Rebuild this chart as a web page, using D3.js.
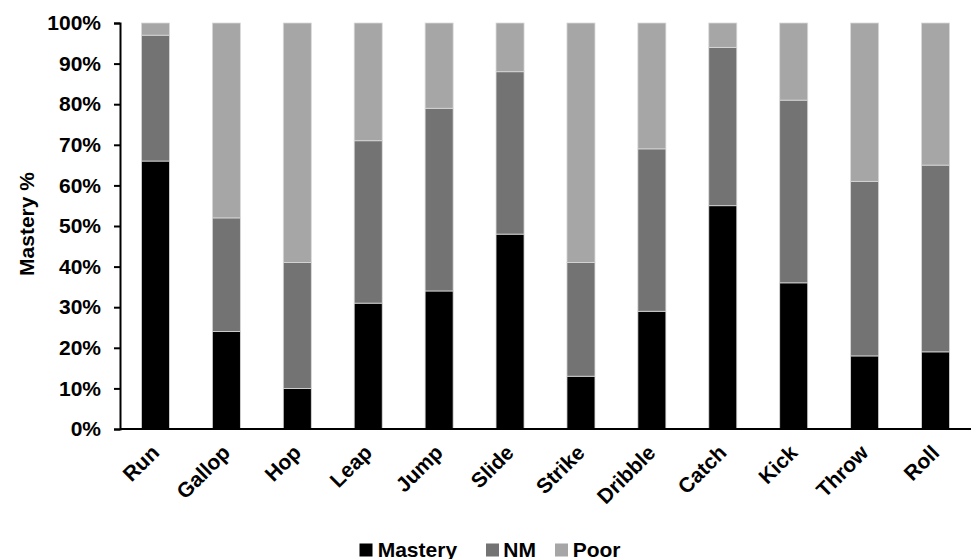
<!DOCTYPE html>
<html>
<head>
<meta charset="utf-8">
<script src="https://cdn.jsdelivr.net/npm/d3@7/dist/d3.min.js"></script>
<style>
  body { margin: 0; background: #fff; }
  text { font-family: "Liberation Sans", Arial, sans-serif; font-weight: bold; fill: #000; }
</style>
</head>
<body>
<svg id="chart" width="973" height="559"></svg>
<script>
const categories = ["Run","Gallop","Hop","Leap","Jump","Slide","Strike","Dribble","Catch","Kick","Throw","Roll"];
const mastery = [66, 24, 10, 31, 34, 48, 13, 29, 55, 36, 18, 19];
const nm      = [31, 28, 31, 40, 45, 40, 28, 40, 39, 45, 43, 46];
const poor    = [ 3, 48, 59, 29, 21, 12, 59, 31,  6, 19, 39, 35];
const seriesNames = ["Mastery", "NM", "Poor"];
const seriesColors = ["#000000", "#737373", "#a6a6a6"];
const yTicks = [0,10,20,30,40,50,60,70,80,90,100];

const svg = d3.select("#chart");
const mLeft = 120, mRight = 971, mTop = 23, mBottom = 429;
const FONT = "'Liberation Sans', Arial, sans-serif";

const rows = categories.map((c, i) => ({cat: c, Mastery: mastery[i], NM: nm[i], Poor: poor[i]}));
const stack = d3.stack().keys(seriesNames)(rows);

const x = d3.scaleBand().domain(categories).range([mLeft, mRight]).paddingInner(0.605).paddingOuter(0.3025);
const y = d3.scaleLinear().domain([0, 100]).range([mBottom, mTop]);
const color = d3.scaleOrdinal().domain(seriesNames).range(seriesColors);

svg.append("g").selectAll("g").data(stack).join("g")
  .attr("fill", d => color(d.key))
  .selectAll("rect").data(d => d).join("rect")
  .attr("x", d => x(d.data.cat))
  .attr("width", x.bandwidth())
  .attr("y", d => y(d[1]))
  .attr("height", d => y(d[0]) - y(d[1]))
  .attr("stroke", "#d9d9d9")
  .attr("stroke-width", 0.8);

// Y axis
const yAxis = d3.axisLeft(y).tickValues(yTicks).tickFormat(d => d + "%").tickSize(6).tickPadding(13);
const gy = svg.append("g").attr("transform", `translate(${mLeft},0)`).call(yAxis);
gy.select(".domain").attr("stroke", "#000").attr("stroke-width", 2);
gy.selectAll(".tick line").attr("stroke", "#000").attr("stroke-width", 2);
gy.selectAll(".tick text").style("font-size", "21px").style("font-family", FONT).style("font-weight", "bold").attr("fill", "#000");

// X axis
const xAxis = d3.axisBottom(x).tickSize(0).tickPadding(0);
const gx = svg.append("g").attr("transform", `translate(0,${mBottom})`).call(xAxis);
gx.select(".domain").attr("stroke", "#000").attr("stroke-width", 2).attr("d", `M${mLeft},0H${mRight}`);
gx.selectAll(".tick text")
  .style("font-size", "21px").style("font-family", FONT).style("font-weight", "bold")
  .attr("fill", "#000")
  .attr("text-anchor", "end")
  .attr("y", 0)
  .attr("dy", "0")
  .attr("transform", "translate(5,25) rotate(-45)");

// Y title
svg.append("text")
  .attr("transform", "translate(34,224) rotate(-90)")
  .attr("text-anchor", "middle")
  .style("font-size", "21px")
  .text("Mastery %");

// Legend
const legendSq = [359.5, 486, 555];
const legendTx = [377.7, 503.3, 572.7];
const lg = svg.append("g");
seriesNames.forEach((s, i) => {
  lg.append("rect").attr("x", legendSq[i]).attr("y", 543.5).attr("width", 13).attr("height", 13).attr("fill", color(s));
  lg.append("text").attr("x", legendTx[i]).attr("y", 556.5).style("font-size", "21px").text(s);
});
</script>
</body>
</html>
